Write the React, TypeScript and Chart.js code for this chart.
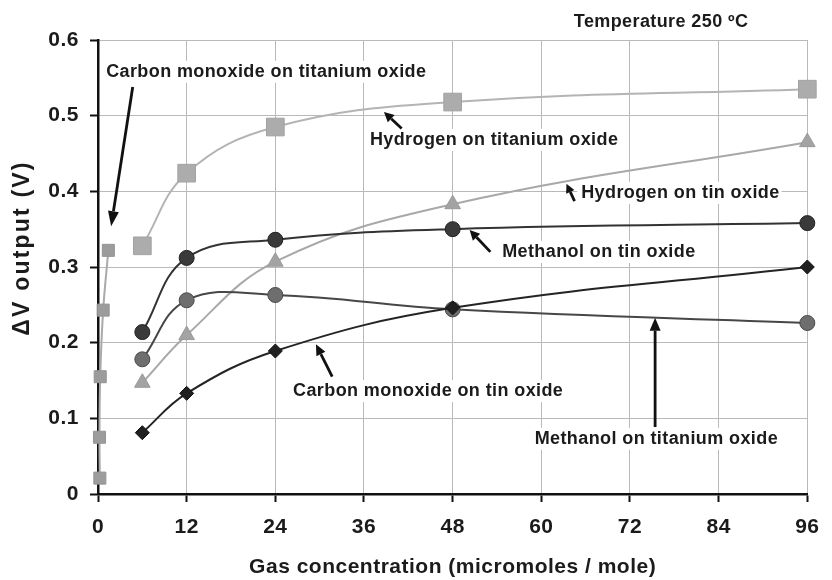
import { useEffect, useRef } from 'react';
import { Chart, registerables } from 'chart.js';

Chart.register(...registerables);

const FONT = '"Liberation Sans", Arial, Helvetica, sans-serif';

// Gas concentration (micromoles / mole)
const concTin = [6, 12, 24, 48, 96];
const concTiHydrogen = [6, 12, 24, 48, 96];
const concTiCO = [0.25, 0.2, 0.3, 0.7, 1.4];

// Sensor response ΔV (V)
const hydrogenOnTiO2 = [0.328, 0.424, 0.485, 0.518, 0.535];
const coOnTiO2 = [0.021, 0.075, 0.155, 0.243, 0.322];
const methanolOnSnO2 = [0.214, 0.312, 0.336, 0.35, 0.358];
const methanolOnTiO2 = [0.178, 0.256, 0.263, 0.244, 0.226];
const hydrogenOnSnO2 = [0.147, 0.21, 0.307, 0.383, 0.465];
const coOnSnO2 = [0.081, 0.133, 0.189, 0.246, 0.3];

const xTickValues = [0, 12, 24, 36, 48, 60, 72, 84, 96];
const yTickValues = [0, 0.1, 0.2, 0.3, 0.4, 0.5, 0.6];

// Callout labels, placed in axis units: text left edge / middle, arrow tail and tip
const notes = [
  { text: 'Carbon monoxide on titanium oxide', at: [1.1, 0.558], tail: [4.7, 0.538], tip: [1.78, 0.354], head: 15, wide: 11 },
  { text: 'Hydrogen on titanium oxide', at: [36.8, 0.468], tail: [41.1, 0.483], tip: [38.7, 0.505], head: 10, wide: 10 },
  { text: 'Hydrogen on tin oxide', at: [65.4, 0.398], tail: [64.5, 0.387], tip: [63.4, 0.41], head: 9, wide: 9 },
  { text: 'Methanol on tin oxide', at: [54.7, 0.32], tail: [53.1, 0.32], tip: [50.3, 0.349], head: 10, wide: 10 },
  { text: 'Carbon monoxide on tin oxide', at: [26.4, 0.136], tail: [31.7, 0.155], tip: [29.5, 0.198], head: 11, wide: 10 },
  { text: 'Methanol on titanium oxide', at: [59.1, 0.073], tail: [75.4, 0.0885], tip: [75.4, 0.233], head: 13, wide: 11 },
];
const temperatureNote = { text: 'Temperature 250 ºC', at: [64.4, 0.624] };
const xTitle = 'Gas concentration (micromoles / mole)';
const yTitle = 'ΔV output (V)';

function pts(xs: number[], ys: number[]) {
  return xs.map((x, i) => ({ x, y: ys[i] }));
}

function drawArrow(ctx: CanvasRenderingContext2D, x1: number, y1: number, x2: number, y2: number, head: number, wide: number) {
  const ang = Math.atan2(y2 - y1, x2 - x1);
  const bx = x2 - Math.cos(ang) * head;
  const by = y2 - Math.sin(ang) * head;
  ctx.strokeStyle = '#111';
  ctx.fillStyle = '#111';
  ctx.lineWidth = 2.8;
  ctx.beginPath();
  ctx.moveTo(x1, y1);
  ctx.lineTo(bx, by);
  ctx.stroke();
  ctx.beginPath();
  ctx.moveTo(x2, y2);
  ctx.lineTo(bx + Math.sin(ang) * wide / 2, by - Math.cos(ang) * wide / 2);
  ctx.lineTo(bx - Math.sin(ang) * wide / 2, by + Math.cos(ang) * wide / 2);
  ctx.closePath();
  ctx.fill();
}

const spacingPlugin = {
  id: 'spacing',
  beforeDraw(chart: any) {
    (chart.ctx as any).letterSpacing = '0.5px';
  },
};

const notesPlugin = {
  id: 'notes',
  beforeDatasetsDraw(chart: any) {
    const { ctx, scales } = chart;
    const xs = scales.x;
    const ys = scales.y;
    ctx.save();
    ctx.font = `bold 18px ${FONT}`;
    (ctx as any).letterSpacing = '0.4px';
    ctx.textBaseline = 'middle';
    ctx.textAlign = 'left';
    notes.forEach((n) => {
      const px = xs.getPixelForValue(n.at[0]);
      const py = ys.getPixelForValue(n.at[1]);
      const w = ctx.measureText(n.text).width;
      ctx.fillStyle = '#ffffff';
      ctx.fillRect(px - 4, py - 11, w + 6, 22);
    });
    notes.forEach((n) => {
      const px = xs.getPixelForValue(n.at[0]);
      const py = ys.getPixelForValue(n.at[1]);
      ctx.fillStyle = '#1b1b1b';
      ctx.fillText(n.text, px, py);
      drawArrow(
        ctx,
        xs.getPixelForValue(n.tail[0]),
        ys.getPixelForValue(n.tail[1]),
        xs.getPixelForValue(n.tip[0]),
        ys.getPixelForValue(n.tip[1]),
        n.head,
        n.wide
      );
    });
    ctx.restore();
  },
  afterDraw(chart: any) {
    const { ctx, scales, chartArea } = chart;
    const xs = scales.x;
    const ys = scales.y;
    ctx.save();
    ctx.fillStyle = '#1b1b1b';
    ctx.textBaseline = 'middle';

    ctx.font = `bold 18px ${FONT}`;
    (ctx as any).letterSpacing = '0.4px';
    ctx.textAlign = 'left';
    ctx.fillText(
      temperatureNote.text,
      xs.getPixelForValue(temperatureNote.at[0]),
      ys.getPixelForValue(temperatureNote.at[1])
    );

    ctx.font = `bold 21px ${FONT}`;
    (ctx as any).letterSpacing = '0.5px';
    ctx.textAlign = 'center';
    ctx.fillText(xTitle, (chartArea.left + chartArea.right) / 2, chartArea.bottom + 73);

    ctx.font = `bold 23px ${FONT}`;
    (ctx as any).letterSpacing = '2.2px';
    ctx.translate(23, (chartArea.top + chartArea.bottom) / 2 - 19);
    ctx.rotate(-Math.PI / 2);
    ctx.fillText(yTitle, 0, 0);
    ctx.restore();
  },
};

export default function App() {
  const ref = useRef<HTMLCanvasElement | null>(null);

  useEffect(() => {
    document.body.style.margin = '0';
    const canvas = ref.current;
    if (!canvas) return;

    const chart = new Chart(canvas, {
      type: 'line',
      data: {
        datasets: [
          {
            label: 'Carbon monoxide on tin oxide',
            data: pts(concTin, coOnSnO2),
            borderColor: '#242424',
            backgroundColor: '#202020',
            pointBackgroundColor: '#202020',
            pointBorderColor: '#111',
            pointStyle: 'rectRot',
            pointRadius: 7,
            borderWidth: 2,
          },
          {
            label: 'Methanol on tin oxide',
            data: pts(concTin, methanolOnSnO2),
            borderColor: '#333',
            backgroundColor: '#3a3a3a',
            pointBackgroundColor: '#3a3a3a',
            pointBorderColor: '#222',
            pointStyle: 'circle',
            pointRadius: 7.5,
            borderWidth: 2,
          },
          {
            label: 'Methanol on titanium oxide',
            data: pts(concTin, methanolOnTiO2),
            borderColor: '#474747',
            backgroundColor: '#6e6e6e',
            pointBackgroundColor: '#6e6e6e',
            pointBorderColor: '#484848',
            pointStyle: 'circle',
            pointRadius: 7.5,
            borderWidth: 2,
          },
          {
            label: 'Hydrogen on tin oxide',
            data: pts(concTin, hydrogenOnSnO2),
            borderColor: '#a8a8a8',
            backgroundColor: '#a3a3a3',
            pointBackgroundColor: '#a3a3a3',
            pointBorderColor: '#999',
            pointStyle: 'triangle',
            pointRadius: 9,
            borderWidth: 2,
          },
          {
            label: 'Carbon monoxide on titanium oxide',
            data: pts(concTiCO, coOnTiO2),
            borderColor: '#aaaaaa',
            backgroundColor: '#9c9c9c',
            pointBackgroundColor: '#9c9c9c',
            pointBorderColor: '#949494',
            pointStyle: 'rect',
            pointRadius: 8.5,
            borderWidth: 2,
          },
          {
            label: 'Hydrogen on titanium oxide',
            data: pts(concTiHydrogen, hydrogenOnTiO2),
            borderColor: '#b4b4b4',
            backgroundColor: '#acacac',
            pointBackgroundColor: '#acacac',
            pointBorderColor: '#a2a2a2',
            pointStyle: 'rect',
            pointRadius: 12.5,
            borderWidth: 2,
          },
        ].map((d) => ({ ...d, fill: false, tension: 0.4, clip: false as any, pointBorderWidth: 1 })),
      },
      options: {
        animation: false,
        responsive: false,
        devicePixelRatio: 1,
        layout: { padding: { top: 40, right: 17, left: 0, bottom: 0 } },
        plugins: {
          legend: { display: false },
          tooltip: { enabled: false },
          title: { display: false },
        },
        elements: { line: { borderCapStyle: 'round' } },
        scales: {
          x: {
            type: 'linear',
            min: xTickValues[0],
            max: xTickValues[xTickValues.length - 1],
            afterFit: (s: any) => {
              s.height = 86;
            },
            afterBuildTicks: (s: any) => {
              s.ticks = xTickValues.map((v) => ({ value: v }));
            },
            ticks: {
              color: '#1b1b1b',
              font: { family: FONT, size: 21, weight: 'bold' },
              padding: 13,
              maxRotation: 0,
              callback: (v: any) => String(v),
            },
            grid: {
              color: '#b9b9b9',
              lineWidth: 1,
              tickColor: '#111',
              tickWidth: 2,
              tickLength: 8,
            },
            border: { color: '#111', width: 2.5 },
          },
          y: {
            type: 'linear',
            min: yTickValues[0],
            max: yTickValues[yTickValues.length - 1],
            afterFit: (s: any) => {
              s.width = 98;
            },
            afterBuildTicks: (s: any) => {
              s.ticks = yTickValues.map((v) => ({ value: v }));
            },
            ticks: {
              color: '#1b1b1b',
              font: { family: FONT, size: 21, weight: 'bold' },
              padding: 11,
              callback: (v: any) => (Number(v) === 0 ? '0' : Number(v).toFixed(1)),
            },
            grid: {
              color: '#b9b9b9',
              lineWidth: 1,
              tickColor: '#111',
              tickWidth: 2,
              tickLength: 8,
            },
            border: { color: '#111', width: 2.5 },
          },
        },
      },
      plugins: [spacingPlugin, notesPlugin],
    } as any);

    return () => chart.destroy();
  }, []);

  return (
    <div style={{ width: 832, height: 580, background: '#fff' }}>
      <canvas ref={ref} width={832} height={580} style={{ display: 'block' }} />
    </div>
  );
}
